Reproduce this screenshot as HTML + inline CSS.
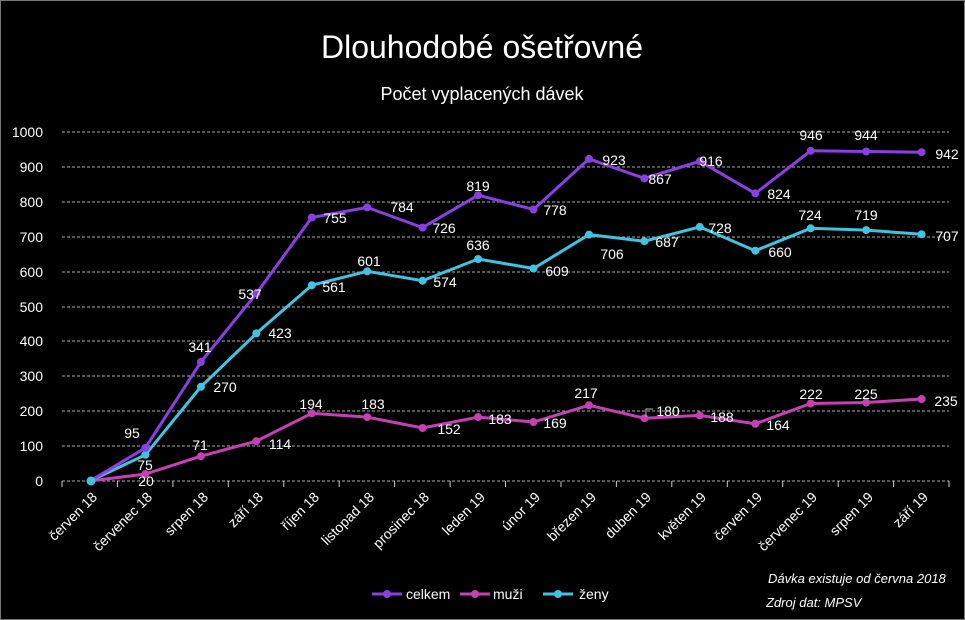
<!DOCTYPE html>
<html><head><meta charset="utf-8"><style>
html,body{margin:0;padding:0;background:#000;}
svg{display:block;font-family:"Liberation Sans","DejaVu Sans",sans-serif;}
</style></head><body>
<svg width="965" height="620" viewBox="0 0 965 620" xmlns="http://www.w3.org/2000/svg">
<rect x="0" y="0" width="965" height="620" fill="#000"/>
<rect x="0.5" y="0.5" width="964" height="619" fill="none" stroke="#777" stroke-width="1"/>
<text x="482" y="58" fill="#fff" font-size="32" text-anchor="middle">Dlouhodobé ošetřovné</text>
<text x="482" y="100" fill="#fff" font-size="18" text-anchor="middle">Počet vyplacených dávek</text>
<g stroke="#aaa" stroke-width="1" stroke-dasharray="3,2">
<line x1="62" x2="949" y1="132" y2="132"/><line x1="62" x2="949" y1="167" y2="167"/>
<line x1="62" x2="949" y1="202" y2="202"/><line x1="62" x2="949" y1="237" y2="237"/>
<line x1="62" x2="949" y1="272" y2="272"/><line x1="62" x2="949" y1="307" y2="307"/>
<line x1="62" x2="949" y1="341" y2="341"/><line x1="62" x2="949" y1="376" y2="376"/>
<line x1="62" x2="949" y1="411" y2="411"/><line x1="62" x2="949" y1="446" y2="446"/>
<line x1="62" x2="949" y1="481" y2="481"/>
</g>
<g stroke="#ccc" stroke-width="1">
<line x1="62" x2="62" y1="481" y2="487"/><line x1="117.4" x2="117.4" y1="481" y2="487"/><line x1="172.9" x2="172.9" y1="481" y2="487"/><line x1="228.3" x2="228.3" y1="481" y2="487"/><line x1="283.8" x2="283.8" y1="481" y2="487"/><line x1="339.2" x2="339.2" y1="481" y2="487"/><line x1="394.6" x2="394.6" y1="481" y2="487"/><line x1="450.1" x2="450.1" y1="481" y2="487"/><line x1="505.5" x2="505.5" y1="481" y2="487"/><line x1="561" x2="561" y1="481" y2="487"/><line x1="616.4" x2="616.4" y1="481" y2="487"/><line x1="671.8" x2="671.8" y1="481" y2="487"/><line x1="727.3" x2="727.3" y1="481" y2="487"/><line x1="782.7" x2="782.7" y1="481" y2="487"/><line x1="838.2" x2="838.2" y1="481" y2="487"/><line x1="893.6" x2="893.6" y1="481" y2="487"/><line x1="949" x2="949" y1="481" y2="487"/>
</g>
<g fill="#fff" font-size="14" text-anchor="end">
<text x="43" y="137">1000</text><text x="43" y="172">900</text><text x="43" y="207">800</text><text x="43" y="242">700</text><text x="43" y="277">600</text><text x="43" y="312">500</text><text x="43" y="346">400</text><text x="43" y="381">300</text><text x="43" y="416">200</text><text x="43" y="451">100</text><text x="43" y="486">0</text>
</g>
<g fill="#fff" font-size="14" text-anchor="end">
<text transform="translate(98,498) rotate(-45)">červen 18</text>
<text transform="translate(153,498) rotate(-45)">červenec 18</text>
<text transform="translate(209,498) rotate(-45)">srpen 18</text>
<text transform="translate(264,498) rotate(-45)">září 18</text>
<text transform="translate(320,498) rotate(-45)">říjen 18</text>
<text transform="translate(375,498) rotate(-45)">listopad 18</text>
<text transform="translate(430,498) rotate(-45)">prosinec 18</text>
<text transform="translate(486,498) rotate(-45)">leden 19</text>
<text transform="translate(541,498) rotate(-45)">únor 19</text>
<text transform="translate(597,498) rotate(-45)">březen 19</text>
<text transform="translate(652,498) rotate(-45)">duben 19</text>
<text transform="translate(707,498) rotate(-45)">květen 19</text>
<text transform="translate(763,498) rotate(-45)">červen 19</text>
<text transform="translate(818,498) rotate(-45)">červenec 19</text>
<text transform="translate(874,498) rotate(-45)">srpen 19</text>
<text transform="translate(929,498) rotate(-45)">září 19</text>
</g>
<!-- muži -->
<polyline fill="none" stroke="#c63fb5" stroke-width="3" points="90,481 145.4,474 200.9,456.2 256.3,441.2 311.8,413.3 367.2,417.1 422.6,428 478.1,417.1 533.5,422 589,405.3 644.4,418.2 699.8,415.4 755.3,423.8 810.7,403.5 866.2,402.5 921.6,399"/>
<g fill="#c63fb5"><circle cx="145.4" cy="474" r="4"/><circle cx="200.9" cy="456.2" r="4"/><circle cx="256.3" cy="441.2" r="4"/><circle cx="311.8" cy="413.3" r="4"/><circle cx="367.2" cy="417.1" r="4"/><circle cx="422.6" cy="428" r="4"/><circle cx="478.1" cy="417.1" r="4"/><circle cx="533.5" cy="422" r="4"/><circle cx="589" cy="405.3" r="4"/><circle cx="644.4" cy="418.2" r="4"/><circle cx="699.8" cy="415.4" r="4"/><circle cx="755.3" cy="423.8" r="4"/><circle cx="810.7" cy="403.5" r="4"/><circle cx="866.2" cy="402.5" r="4"/><circle cx="921.6" cy="399" r="4"/></g>
<!-- ženy -->
<polyline fill="none" stroke="#3fc3e0" stroke-width="3" points="90,481 145.4,454.8 200.9,386.8 256.3,333.4 311.8,285.2 367.2,271.3 422.6,280.7 478.1,259 533.5,268.5 589,234.6 644.4,241.2 699.8,226.9 755.3,250.7 810.7,228.3 866.2,230.1 921.6,234.3"/>
<g fill="#3fc3e0"><circle cx="145.4" cy="454.8" r="4"/><circle cx="200.9" cy="386.8" r="4"/><circle cx="256.3" cy="333.4" r="4"/><circle cx="311.8" cy="285.2" r="4"/><circle cx="367.2" cy="271.3" r="4"/><circle cx="422.6" cy="280.7" r="4"/><circle cx="478.1" cy="259" r="4"/><circle cx="533.5" cy="268.5" r="4"/><circle cx="589" cy="234.6" r="4"/><circle cx="644.4" cy="241.2" r="4"/><circle cx="699.8" cy="226.9" r="4"/><circle cx="755.3" cy="250.7" r="4"/><circle cx="810.7" cy="228.3" r="4"/><circle cx="866.2" cy="230.1" r="4"/><circle cx="921.6" cy="234.3" r="4"/></g>
<!-- celkem -->
<polyline fill="none" stroke="#8b3fe3" stroke-width="3" points="90,481 145.4,447.8 200.9,362 256.3,293.6 311.8,217.5 367.2,207.4 422.6,227.6 478.1,195.2 533.5,209.5 589,158.9 644.4,178.4 699.8,161.3 755.3,193.4 810.7,150.8 866.2,151.5 921.6,152.2"/>
<g fill="#8b3fe3"><circle cx="145.4" cy="447.8" r="4"/><circle cx="200.9" cy="362" r="4"/><circle cx="256.3" cy="293.6" r="4"/><circle cx="311.8" cy="217.5" r="4"/><circle cx="367.2" cy="207.4" r="4"/><circle cx="422.6" cy="227.6" r="4"/><circle cx="478.1" cy="195.2" r="4"/><circle cx="533.5" cy="209.5" r="4"/><circle cx="589" cy="158.9" r="4"/><circle cx="644.4" cy="178.4" r="4"/><circle cx="699.8" cy="161.3" r="4"/><circle cx="755.3" cy="193.4" r="4"/><circle cx="810.7" cy="150.8" r="4"/><circle cx="866.2" cy="151.5" r="4"/><circle cx="921.6" cy="152.2" r="4"/></g>
<circle cx="91" cy="481" r="4.5" fill="#3fc3e0"/>
<g fill="#fff" font-size="14" text-anchor="middle">
<!-- celkem -->
<text x="132" y="438">95</text><text x="200" y="352">341</text><text x="250" y="299">537</text>
<text x="335" y="223">755</text><text x="402" y="212">784</text><text x="444" y="233">726</text>
<text x="478" y="191">819</text><text x="555" y="215">778</text><text x="614" y="165">923</text>
<text x="660" y="184">867</text><text x="711" y="166">916</text><text x="779" y="199">824</text>
<text x="811" y="140">946</text><text x="866" y="140">944</text><text x="947" y="159">942</text>
<!-- ženy -->
<text x="145" y="470">75</text><text x="225" y="392">270</text><text x="280" y="338">423</text>
<text x="334" y="292">561</text><text x="369" y="266">601</text><text x="445" y="287">574</text>
<text x="478" y="250">636</text><text x="557" y="276">609</text><text x="612" y="259">706</text>
<text x="667" y="247">687</text><text x="720" y="233">728</text><text x="780" y="257">660</text>
<text x="810" y="220">724</text><text x="866" y="220">719</text><text x="947" y="241">707</text>
<!-- muži -->
<text x="146" y="486">20</text><text x="200" y="450">71</text><text x="280" y="449">114</text>
<text x="311" y="409">194</text><text x="373" y="409">183</text><text x="449" y="434">152</text>
<text x="500" y="424">183</text><text x="555" y="428">169</text><text x="586" y="398">217</text>
<text x="668" y="416">180</text><text x="722" y="422">188</text><text x="778" y="430">164</text>
<text x="811" y="399">222</text><text x="866" y="399">225</text><text x="946" y="406">235</text>
</g>
<polyline points="646,417 646,409 653,409" fill="none" stroke="#bbb" stroke-width="1"/>
<!-- legend -->
<line x1="372" x2="402" y1="594" y2="594" stroke="#8b3fe3" stroke-width="3"/><circle cx="387" cy="594" r="4" fill="#8b3fe3"/>
<text x="406" y="599" fill="#fff" font-size="14">celkem</text>
<line x1="460" x2="490" y1="594" y2="594" stroke="#c63fb5" stroke-width="3"/><circle cx="475" cy="594" r="4" fill="#c63fb5"/>
<text x="493" y="599" fill="#fff" font-size="14">muži</text>
<line x1="543" x2="573" y1="594" y2="594" stroke="#3fc3e0" stroke-width="3"/><circle cx="558" cy="594" r="4" fill="#3fc3e0"/>
<text x="579" y="599" fill="#fff" font-size="14">ženy</text>
<g fill="#fff" font-size="13" font-style="italic">
<text x="768" y="583">Dávka existuje od června 2018</text>
<text x="766" y="607">Zdroj dat: MPSV</text>
</g>
</svg>
</body></html>
